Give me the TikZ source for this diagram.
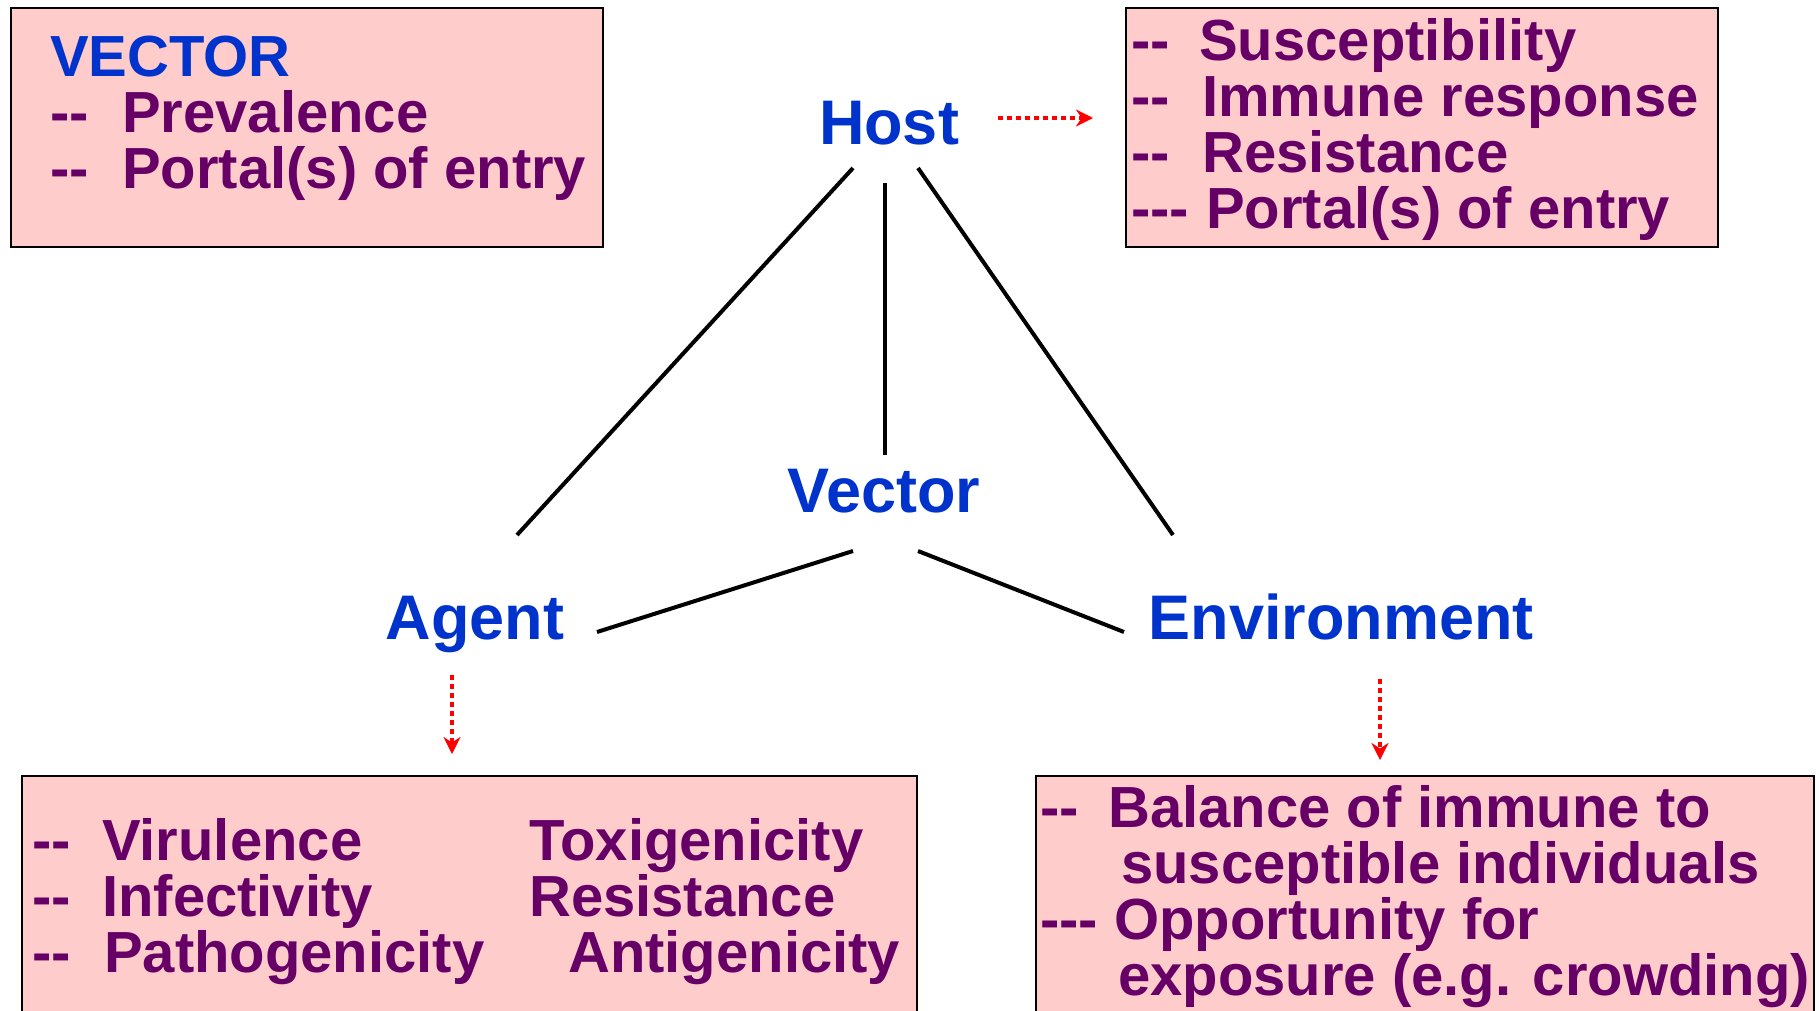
\documentclass[tikz,border=0pt]{standalone}
\usepackage{fontspec}
\newfontfamily\diagfont{Liberation Sans}
\usepackage{tikz}
\usetikzlibrary{positioning}
\usetikzlibrary{calc,arrows.meta}
\definecolor{labelblue}{RGB}{0,51,204}
\definecolor{itempurple}{RGB}{102,0,102}
\definecolor{boxpink}{RGB}{255,204,204}

\begin{document}
\begin{tikzpicture}[x=1pt,y=-1pt,
    infobox/.style={draw=black,line width=2pt,fill=boxpink,anchor=north west,inner sep=0pt},
    itemtext/.style={text=itempurple,font=\diagfont\bfseries\fontsize{58}{56}\selectfont,align=left,anchor=base west,inner sep=0pt},
    corner/.style={text=labelblue,font=\diagfont\bfseries\fontsize{63}{63}\selectfont,anchor=base,inner sep=0pt},
    link/.style={line width=4pt},
    pointer/.style={draw=red,line width=4.5pt,dash pattern=on 4.5pt off 4.5pt,-{Stealth[length=17pt,width=17pt]}}]
        \useasboundingbox (0,0) rectangle (1819,1010);

        \node[infobox,minimum width=592pt,minimum height=239pt] (vectorbox) at (10,7) {};
        \node[infobox,minimum width=592pt,minimum height=239pt] (hostbox) at (1125,7) {};
        \node[infobox,minimum width=895pt,minimum height=260pt] (agentbox) at (21,775) {};
        \node[infobox,minimum width=778pt,minimum height=260pt] (envbox) at (1035,775) {};

        \node[itemtext] (vectoritems) at (50,188) {\textcolor{labelblue}{VECTOR}\\
          \makebox[72pt][l]{-{}-}Prevalence\\
          \makebox[72pt][l]{-{}-}Portal(s) of entry};
        \node[itemtext] (hostitems) at (1131,228) {\makebox[68pt][l]{-{}-}Susceptibility\\
          \makebox[71pt][l]{-{}-}Immune response\\
          \makebox[71pt][l]{-{}-}Resistance\\
          \makebox[75pt][l]{-{}-{}-}Portal(s) of entry};
        \node[itemtext] (agentitems) at (32,972) {\makebox[70pt][l]{-{}-}\makebox[427pt][l]{Virulence}Toxigenicity\\
          \makebox[70pt][l]{-{}-}\makebox[427pt][l]{Infectivity}Resistance\\
          \makebox[72pt][l]{-{}-}\makebox[464pt][l]{Pathogenicity}Antigenicity};
        \node[itemtext] (envitems) at (1040,995) {\makebox[68pt][l]{-{}-}Balance of immune to\\
          \hspace*{81pt}susceptible individuals\\
          \makebox[74pt][l]{-{}-{}-}Opportunity for\\
          \hspace*{78pt}exposure (e.g. crowding)};

        \node[corner] (host) at (889,144) {Host};
        \node[corner] (vector) at (884,512) {Vector};
        \node[corner] (agent) at (475,639) {Agent};
        \node[corner] (environment) at (1341,639) {Environment};

        \draw[link] ($(host.base)+(-36,24)$) -- ($(agent.base)+(42,-104)$);
        \draw[link] ($(host.base)+(-4,39)$) -- ($(vector.base)+(1,-57)$);
        \draw[link] ($(host.base)+(29,24)$) -- ($(environment.base)+(-168,-104)$);
        \draw[link] ($(vector.base)+(-31,39)$) -- ($(agent.base)+(122,-7)$);
        \draw[link] ($(vector.base)+(34,39)$) -- ($(environment.base)+(-217,-7)$);

        \draw[pointer] ($(host.base)+(109,-26)$) -- ($(hostbox.north west)+(-32,111)$);
        \draw[pointer] ($(agent.base)+(-23,36)$) -- ($(agentbox.north west)+(431,-21)$);
        \draw[pointer] ($(environment.base)+(39,40)$) -- ($(envbox.north west)+(345,-15)$);
      \end{tikzpicture}
\end{document}
